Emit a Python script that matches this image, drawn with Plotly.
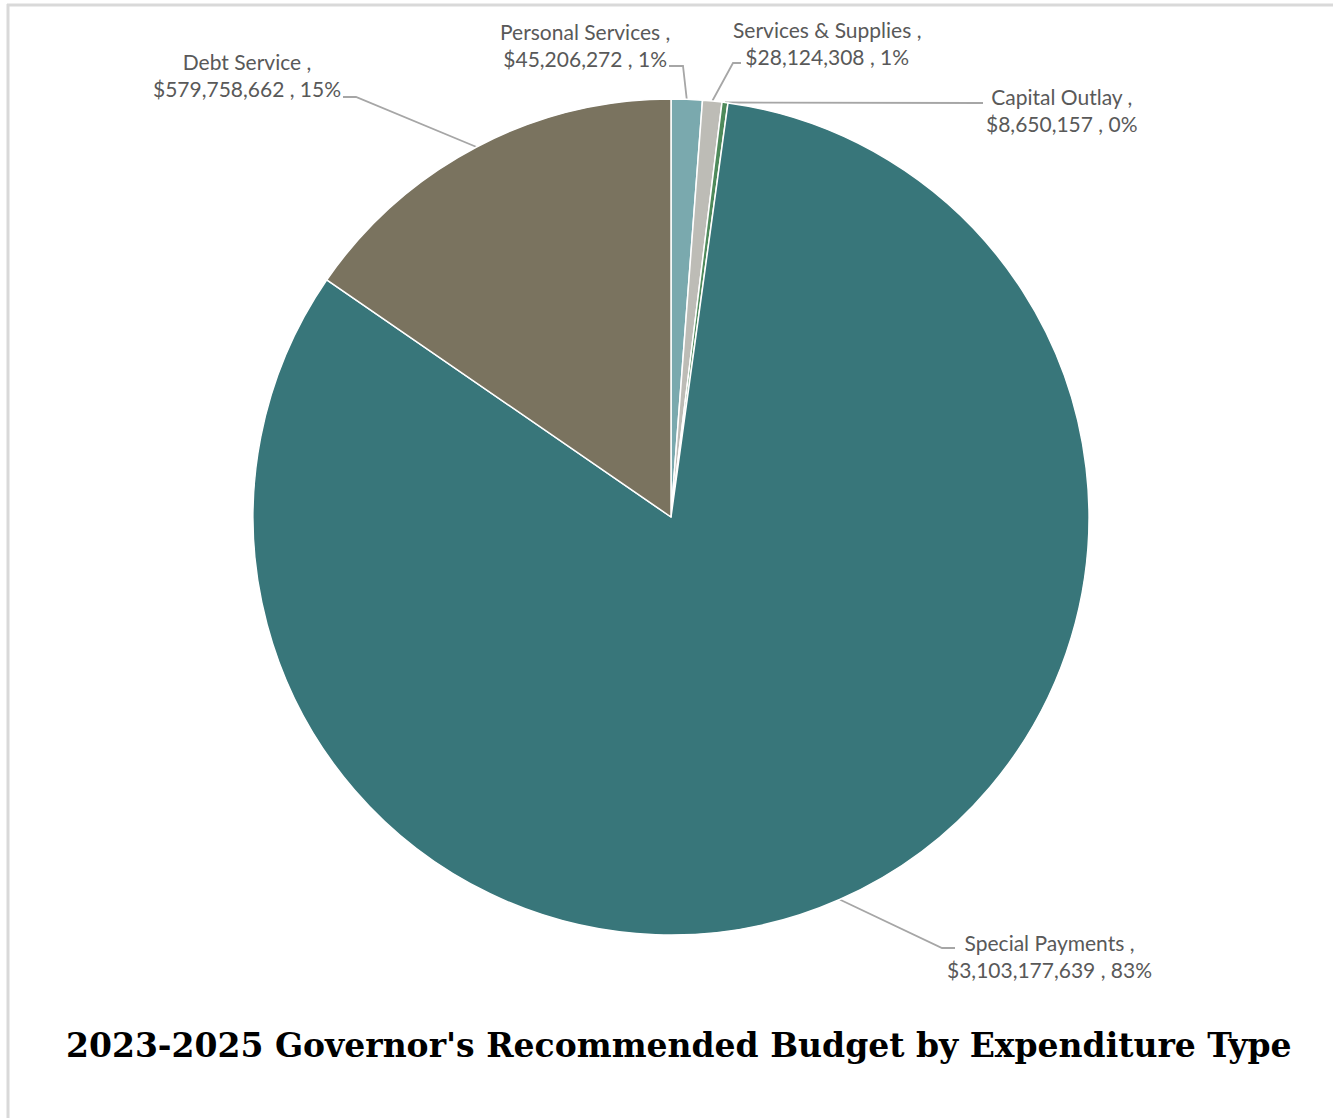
import math
import plotly.graph_objects as go

# Expenditure categories, clockwise from 12 o'clock
categories = ["Personal Services", "Services & Supplies", "Capital Outlay",
              "Special Payments", "Debt Service"]
amounts = [45206272, 28124308, 8650157, 3103177639, 579758662]
percent_labels = [1, 1, 0, 83, 15]
slice_colors = ["#7aa9ae", "#bdbcb6", "#4e8a5b", "#38767a", "#7a735f"]
title_text = "2023-2025 Governor's Recommended Budget by Expenditure Type"

W, H = 1333, 1118
CX, CY, R = 671, 517, 418  # pie centre and radius in pixels


def px(x):
    return x / W


def py(y):
    return 1 - y / H


total = sum(amounts)
shares = [v / total for v in amounts]

fig = go.Figure(go.Pie(
    labels=categories,
    values=amounts,
    sort=False,
    direction="clockwise",
    rotation=0,
    marker=dict(colors=slice_colors, line=dict(color="white", width=1.5)),
    textinfo="none",
    hovertemplate="%{label}<br>$%{value:,}<br>%{percent}<extra></extra>",
    domain=dict(x=[px(CX - R), px(CX + R)], y=[py(CY + R), py(CY - R)]),
    showlegend=False,
))

# label placement: (centre of text block, elbow points of the leader line)
label_layout = {
    "Personal Services": ((585, 45), [(683, 66), (669, 66)]),
    "Services & Supplies": ((827, 43), [(733, 63), (741, 63)]),
    "Capital Outlay": ((1062, 110), [(983, 103)]),
    "Special Payments": ((1049, 956), [(942, 948), (955, 948)]),
    "Debt Service": ((247, 75), [(356, 97), (343, 97)]),
}

shapes = []
annotations = []
cum = 0.0
for name, val, share, pct in zip(categories, amounts, shares, percent_labels):
    mid = (cum + share / 2) * 2 * math.pi
    cum += share
    ex = CX + R * math.sin(mid)
    ey = CY - R * math.cos(mid)
    (lx, ly), elbows = label_layout[name]
    pts = [(ex, ey)] + elbows
    path = "M " + " L ".join(f"{px(a):.5f},{py(b):.5f}" for a, b in pts)
    shapes.append(dict(type="path", xref="paper", yref="paper", path=path,
                       line=dict(color="#a6a6a6", width=1.8), layer="below"))
    annotations.append(dict(
        x=px(lx), y=py(ly), xref="paper", yref="paper",
        xanchor="center", yanchor="middle", align="center", showarrow=False,
        text=f"{name} ,<br>${val:,} , {pct}%",
        font=dict(family="Lato", size=21, color="#595959"),
    ))

annotations.append(dict(
    x=px(678), y=py(1045), xref="paper", yref="paper",
    xanchor="center", yanchor="middle", showarrow=False,
    text=f"<b>{title_text}</b>",
    font=dict(family="DejaVu Serif", size=33, color="#000000"),
))

# thin frame along the top and left edges
shapes.append(dict(type="line", xref="paper", yref="paper",
                   x0=px(7), x1=1, y0=py(5), y1=py(5),
                   line=dict(color="#d9d9d9", width=3)))
shapes.append(dict(type="line", xref="paper", yref="paper",
                   x0=px(8), x1=px(8), y0=py(4), y1=0,
                   line=dict(color="#d9d9d9", width=3)))

fig.update_layout(
    width=W, height=H,
    margin=dict(l=0, r=0, t=0, b=0),
    paper_bgcolor="white", plot_bgcolor="white",
    shapes=shapes, annotations=annotations,
)

fig.write_html("out.html")
